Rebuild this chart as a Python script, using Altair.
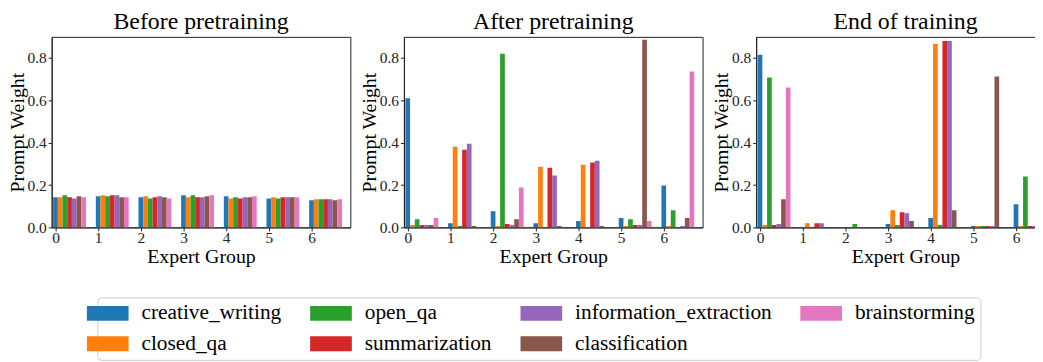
import altair as alt
import pandas as pd

categories = ["creative_writing", "closed_qa", "open_qa", "summarization",
              "information_extraction", "classification", "brainstorming"]
colors = ["#1f77b4", "#ff7f0e", "#2ca02c", "#d62728", "#9467bd", "#8c564b", "#e377c2"]
groups = [0, 1, 2, 3, 4, 5, 6]
titles = ["Before pretraining", "After pretraining", "End of training"]

# values per expert group, in category order
before = [
    [0.142, 0.142, 0.152, 0.142, 0.136, 0.147, 0.142],
    [0.147, 0.152, 0.147, 0.152, 0.152, 0.142, 0.142],
    [0.142, 0.147, 0.136, 0.142, 0.147, 0.142, 0.136],
    [0.152, 0.142, 0.152, 0.142, 0.142, 0.147, 0.152],
    [0.147, 0.136, 0.142, 0.136, 0.142, 0.142, 0.147],
    [0.136, 0.142, 0.136, 0.142, 0.142, 0.142, 0.142],
    [0.128, 0.133, 0.133, 0.133, 0.133, 0.128, 0.133],
]
after = [
    [0.610, 0.011, 0.039, 0.011, 0.011, 0.011, 0.044],
    [0.020, 0.381, 0.006, 0.367, 0.395, 0.006, 0.001],
    [0.076, 0.006, 0.820, 0.016, 0.011, 0.039, 0.189],
    [0.020, 0.287, 0.001, 0.282, 0.245, 0.006, 0.000],
    [0.030, 0.296, 0.000, 0.306, 0.315, 0.006, 0.000],
    [0.044, 0.006, 0.039, 0.011, 0.011, 0.886, 0.030],
    [0.198, 0.006, 0.081, 0.000, 0.006, 0.044, 0.736],
]
end = [
    [0.816, 0.011, 0.708, 0.011, 0.016, 0.133, 0.661],
    [0.000, 0.020, 0.000, 0.020, 0.020, 0.000, 0.000],
    [0.000, 0.000, 0.016, 0.000, 0.000, 0.000, 0.000],
    [0.016, 0.081, 0.011, 0.072, 0.067, 0.030, 0.000],
    [0.044, 0.867, 0.011, 0.881, 0.881, 0.081, 0.000],
    [0.006, 0.006, 0.006, 0.006, 0.006, 0.713, 0.000],
    [0.109, 0.006, 0.240, 0.006, 0.006, 0.039, 0.324],
]
stages = [before, after, end]

bar_w = 0.11
x_domain = [-0.09, 6.91]
y_ticks = [0.0, 0.2, 0.4, 0.6, 0.8]

rows = []
for title, table in zip(titles, stages):
    for g, vals in zip(groups, table):
        for i, (c, v) in enumerate(zip(categories, vals)):
            rows.append({"stage": title, "group": g, "idx": i, "category": c, "value": v})
df = pd.DataFrame(rows)

FONT = "Liberation Serif"


def panel(title, width, show_legend=False):
    legend = None
    if show_legend:
        legend = alt.Legend(
            title=None, orient="none", legendX=46, legendY=262.5, columns=4,
            direction="vertical",
            symbolType="M-3.5,-1H2.1V1H-3.5Z", symbolSize=225, symbolStrokeWidth=0,
            symbolOpacity=1, labelFont=FONT, labelFontSize=21.5, labelColor="black",
            labelLimit=400, labelOffset=18, columnPadding=28, rowPadding=8, padding=5,
            strokeColor="#cccccc", cornerRadius=4, fillColor="white",
        )
    return (
        alt.Chart(df)
        .transform_filter(alt.datum.stage == title)
        .transform_calculate(x0=f"datum.group + datum.idx * {bar_w} - {bar_w / 2}",
                             x1=f"datum.group + datum.idx * {bar_w} + {bar_w / 2}")
        .mark_rect(clip=True)
        .encode(
            x=alt.X("x0:Q", scale=alt.Scale(domain=x_domain, nice=False, zero=False),
                    axis=alt.Axis(title="Expert Group", values=groups, format="d",
                                  labelPadding=0, titlePadding=0)),
            x2="x1:Q",
            y=alt.Y("value:Q", scale=alt.Scale(domain=[0, 0.9], nice=False),
                    axis=alt.Axis(title="Prompt Weight", values=y_ticks, format=".1f",
                                  labelPadding=2, titlePadding=0)),
            y2=alt.datum(0),
            color=alt.Color("category:N",
                            scale=alt.Scale(domain=categories, range=colors),
                            legend=legend),
        )
        .properties(width=width, height=192, title=alt.TitleParams(title))
    )


chart = (
    alt.hconcat(
        panel(titles[0], 301, show_legend=True),
        panel(titles[1], 301),
        panel(titles[2], 301),
        spacing=7,
    )
    .properties(
        padding={"left": 44, "top": 27, "right": 991, "bottom": 319},
        autosize=alt.AutoSizeParams(type="none"),
    )
    .configure(font=FONT)
    .configure_view(stroke="#222222", strokeWidth=1)
    .configure_title(font=FONT, fontSize=24, fontWeight="normal", color="black",
                     anchor="middle", offset=3)
    .configure_legend(labelFont=FONT)
    .configure_axis(
        grid=False, labelFont=FONT, labelFontSize=15.5, labelColor="#222222",
        titleFont=FONT, titleFontSize=20, titleFontWeight="normal", titleColor="black",
        tickSize=3.5, tickColor="#222222", domainColor="#222222",
    )
)

chart.save("out.html", embed_options={"renderer": "svg", "actions": False})
